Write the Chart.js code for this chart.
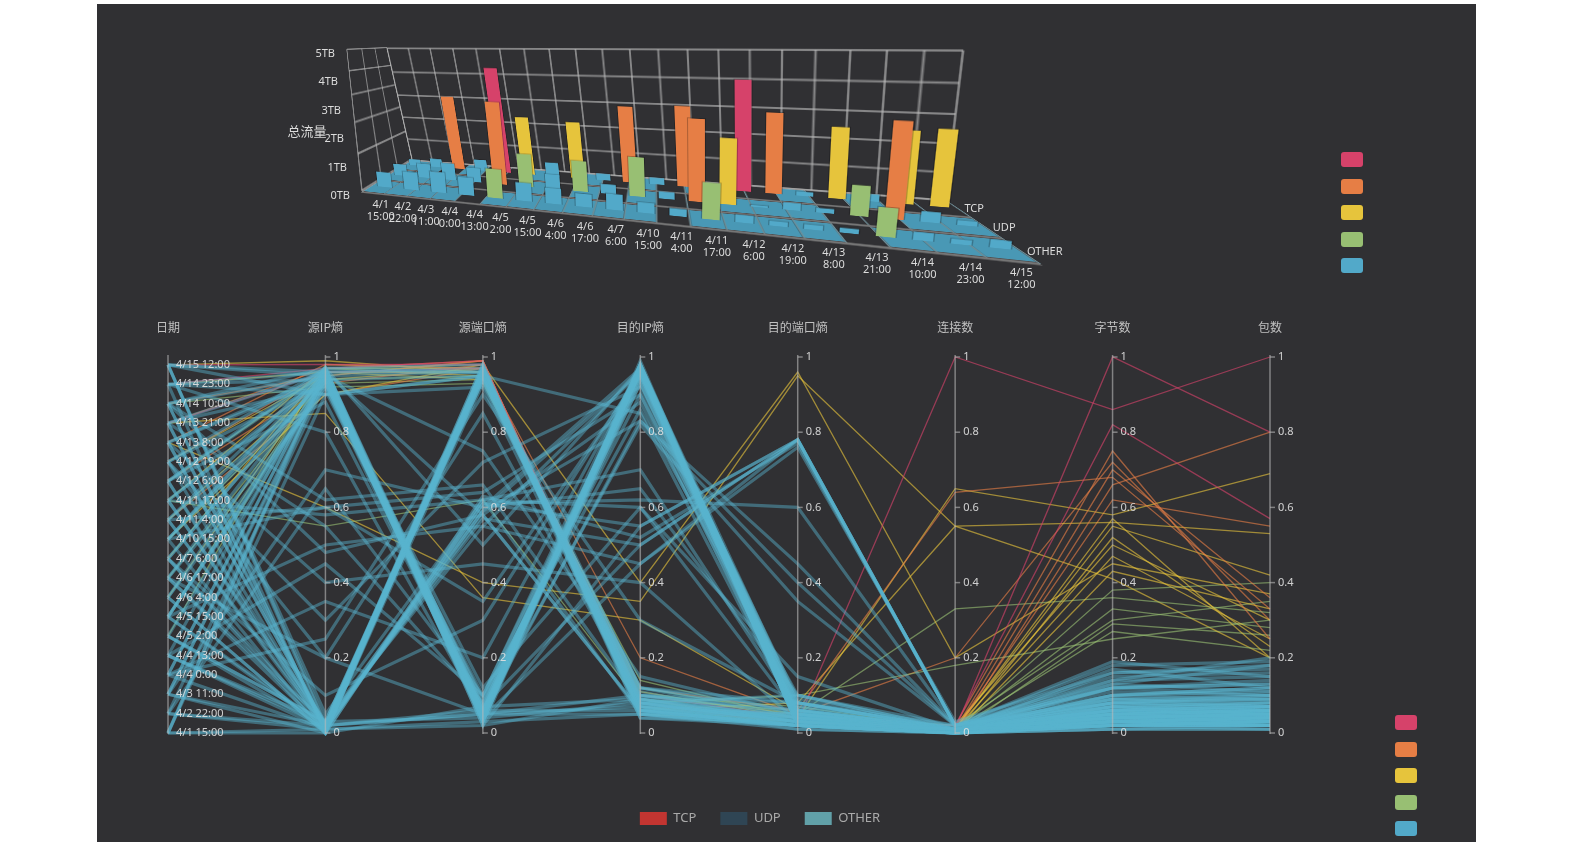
<!DOCTYPE html>
<html><head><meta charset="utf-8">
<script src="https://cdn.jsdelivr.net/npm/chart.js@4.4.1/dist/chart.umd.min.js"></script>
<style>
html,body{margin:0;padding:0;background:#fff;width:1575px;height:846px;overflow:hidden;}
#panel{position:absolute;left:97px;top:4px;width:1379px;height:838px;background:#303033;}
#stage{position:absolute;left:0;top:0;width:1575px;height:846px;}
.plane{position:absolute;left:0;top:0;transform-origin:0 0;}
.lbl{position:absolute;color:#dcdcdc;font:11px 'Noto Sans','Noto Sans CJK SC',sans-serif;white-space:nowrap;line-height:12px;z-index:20;}
.sw{position:absolute;width:22px;height:15px;border-radius:3px;z-index:20;}
</style></head><body>
<div id="panel"></div>
<div id="stage"><canvas id="par" width="1575" height="846" style="position:absolute;left:0;top:0;width:1575px;height:846px;z-index:1"></canvas></div>
<script>
// ---------------- data ----------------
const dateLabels = ['4/1 15:00','4/2 22:00','4/3 11:00','4/4 0:00','4/4 13:00','4/5 2:00','4/5 15:00','4/6 4:00','4/6 17:00','4/7 6:00','4/10 15:00','4/11 4:00','4/11 17:00','4/12 6:00','4/12 19:00','4/13 8:00','4/13 21:00','4/14 10:00','4/14 23:00','4/15 12:00'];
const protoRows = ['OTHER','UDP','TCP'];            // front -> back
const trafficTCP   = [0.3, 0.4, 3.1, 0.5, 4.3, 2.4, 0.6, 2.3, 0.3, 3.0, 0.3, 3.1, 0.2, 4.1, 3.0, 0.2, 2.6, 0.3, 2.6, 2.7];
const trafficUDP   = [0.5, 0.6, 0.7, 0.6, 3.2, 1.3, 0.6, 1.2, 0.4, 1.5, 0.3, 3.0, 2.4, 0.1, 0.3, 0.2, 1.1, 3.3, 0.4, 0.2];
const trafficOTHER = [0.6, 0.7, 0.8, 0.7, 1.1, 0.7, 0.6, 0.5, 0.6, 0.4, 0.3, 1.3, 0.3, 0.2, 0.2, 0.2, 1.0, 0.3, 0.2, 0.3];
const tbTicks = ['0TB','1TB','2TB','3TB','4TB','5TB'];
const trafficAxisName = '总流量';
const pieceColors = ['#52a9c9','#98bf73','#e6c43c','#e67e45','#d6426a']; // low -> high
const trafficBounds = [1, 2, 3, 4];
const bytesBounds = [0.2, 0.4, 0.6, 0.8];

const dims = ['日期','源IP熵','源端口熵','目的IP熵','目的端口熵','连接数','字节数','包数'];
const valueTicks = [0, 0.2, 0.4, 0.6, 0.8, 1];
const seriesNames = ['TCP','UDP','OTHER'];
const seriesColors = ['#c23531','#2f4554','#61a0a8'];

const pcDate = [19,17,15,13,11,9,7,5,3,2, 1,0,16,8,19,18,14,12,10,6, 4,2,1,0,18,15,11,6,3,17, 13,9,5,1,12,7,16,10,4,14, 8,19,18,13,6,2,11,5,0,15, 9,3,17,10,7,14,12,4,16,8, 12,6,17,3,9,19,0,14,
  18,19,16,17,15,14,13,12,11,19, 18,10,16,9,14,13,8,17,6,12, 15,11,7,10,5,16,
  19,18,16,14,12,10,8,6,4,2, 17,15,13,11,9,7,5,3,19,16, 8,2,18,10,15,6,11,1,13,4, 17,0];
const pcSrcIp = [.96,.95,.94,.96,.93,.95,.97,.94,.96,.95, .93,.97,.92,.91,.02,0,.01,.03,0,.02, .01,0,.02,.01,.96,.95,.97,.94,.96,.01, .02,0,.03,.01,.02,0,.55,.60,.45,.30, .20,.05,.80,.88,.93,.70,.02,.01,0,.40, .95,.25,.97,.96,.92,.97,.94,.02,.01,.03, .58,.50,.62,.35,.10,.90,.96,.20,
  .97,.98,.96,.95,.98,.96,.93,.97,.94,.99, .96,.90,.85,.97,.95,.96,.94,.92,.97,.55, .60,.90,.96,.93,.98,.97,
  .95,.94,.96,.93,.95,.94,.96,.95,.97,.94, .01,.02,0,.01,.02,0,.03,.01,.03,.02, .01,.02,.90,.97,.02,.01,.60,.65,.97,.03, .48,.90];
const pcSrcPort = [.05,.04,.06,.03,.07,.05,.02,.06,.04,.08, .05,.03,.09,.10,.97,.95,.96,.94,.97,.95, .98,.93,.96,.94,.97,.96,.98,.95,.96,.60, .58,.62,.59,.61,.57,.63,.08,.35,.10,.72, .85,.62,.05,.06,.12,.60,.05,.03,.07,.45, .75,.90,.50,.02,.04,.05,.04,.96,.97,.95, .62,.55,.66,.20,.30,.95,.58,.05,
  .99,.98,.97,.99,.97,.96,.98,.95,.97,.96, .94,.98,.36,.97,.99,.96,.95,.93,.98,.62, .40,.97,.96,.94,.97,.99,
  .06,.04,.05,.07,.03,.06,.05,.04,.06,.03, .95,.97,.96,.94,.98,.95,.96,.97,.04,.06, .02,.05,.95,.96,.61,.59,.64,.10,.07,.55, .58,.92];
const pcDstIp = [.97,.96,.98,.95,.97,.96,.98,.94,.97,.93, .96,.99,.90,.86,.06,.08,.05,.09,.07,.10, .04,.11,.06,.08,.06,.09,.05,.12,.07,.97, .88,.70,.96,.55,.50,.52,.97,.95,.98,.92, .08,.05,.83,.82,.60,.65,.07,.05,.09,.40, .15,.30,.97,.55,.45,.97,.98,.10,.12,.08, .60,.96,.08,.97,.96,.85,.06,.05,
  .08,.06,.10,.07,.09,.12,.08,.11,.06,.05, .10,.40,.30,.09,.07,.12,.10,.14,.06,.08, .35,.20,.08,.09,.07,.07,
  .96,.97,.93,.95,.97,.96,.98,.97,.95,.98, .07,.09,.06,.08,.05,.10,.07,.06,.08,.06, .09,.10,.12,.04,.62,.83,.90,.96,.50,.45, .06,.07];
const pcDstPort = [.03,.05,.02,.04,.06,.03,.02,.05,.07,.04, .03,.02,.08,.10,.02,.03,.02,.04,.01,.05, .02,.03,.02,.04,.02,.03,.05,.04,.02,.04, .05,.06,.03,.78,.78,.77,.05,.03,.08,.04, .02,.03,.40,.35,.15,.10,.02,.01,.03,.03, .05,.08,.02,.78,.76,.02,.06,.08,.06,.10, .05,.04,.03,.03,.05,.04,.02,.02,
  .03,.02,.04,.05,.03,.06,.02,.04,.08,.03, .05,.96,.06,.02,.04,.05,.07,.04,.03,.10, .95,.05,.03,.06,.02,.03,
  .08,.05,.06,.09,.04,.07,.05,.03,.06,.02, .04,.02,.05,.03,.02,.06,.03,.04,.03,.02, .04,.03,.08,.03,.60,.45,.03,.04,.78,.78, .02,.05];
const pcConn = [.01,.01,0,.01,.01,.02,.01,0,.01,.01, .01,0,.01,.02,.01,.01,0,.01,0,.01, .01,.01,0,.01,.01,.01,.01,0,.01,.01, .01,.01,0,.02,.02,.02,.01,.01,.01,.01, .01,.01,.02,.02,.01,.01,0,0,0,.01, .01,.01,.01,.02,.03,.01,.01,.02,.01,.01, .01,.01,.01,.01,.01,.01,0,0,
  1.00,.01,.02,.01,0,.64,.02,.65,.55,.01, .02,.20,.01,0,.01,.33,.01,.02,.01,.18, .55,.20,0,.01,0,.01,
  .01,.01,.01,.01,.01,.01,.01,.01,.01,0, .01,.01,.01,.01,0,.01,.01,.01,0,0, .01,0,.01,.01,.02,.02,.01,.01,.02,.02, .01,.01];
const pcBytes = [.02,.04,.03,.06,.05,.08,.03,.02,.10,.04, .07,.01,.12,.09,.03,.02,.05,.04,.02,.06, .03,.08,.01,.04,.03,.05,.02,.07,.04,.05, .07,.04,.03,.10,.11,.09,.06,.03,.05,.08, .02,.04,.15,.13,.10,.07,.02,.01,.03,.06, .09,.12,.04,.18,.16,.14,.17,.19,.16,.13, .05,.06,.03,.04,.05,.06,.02,.02,
  .86,1.00,.82,.70,.66,.68,.75,.58,.56,.55, .50,.45,.57,.43,.47,.36,.33,.30,.27,.25, .41,.72,.52,.38,.29,.62,
  .05,.07,.03,.08,.04,.06,.05,.02,.09,.03, .04,.03,.06,.05,.02,.07,.04,.03,.02,.03, .04,.02,.10,.03,.08,.12,.05,.06,.14,.12, .03,.08];
const pcPkts = [.03,.05,.02,.07,.04,.09,.04,.02,.12,.06, .05,.01,.14,.08,.02,.03,.04,.05,.01,.07, .03,.06,.02,.04,.04,.03,.02,.08,.05,.06, .06,.05,.03,.11,.10,.09,.05,.04,.06,.07, .03,.05,.16,.18,.09,.08,.02,.01,.03,.07, .10,.13,.04,.19,.17,.20,.12,.15,.18,.11, .06,.05,.04,.03,.07,.05,.03,.02,
  1.00,.80,.57,.36,.80,.33,.25,.69,.53,.42, .30,.37,.20,.33,.25,.32,.28,.35,.22,.30, .20,.30,.23,.40,.26,.55,
  .06,.05,.04,.10,.03,.08,.04,.03,.07,.02, .05,.03,.04,.06,.02,.06,.05,.04,.03,.02, .03,.02,.12,.02,.07,.10,.06,.05,.15,.13, .04,.09];

// ---------------- helpers ----------------
Chart.defaults.font.family = "'Noto Sans','Noto Sans CJK SC',sans-serif";
function pieceIndex(v, bounds){ let i=0; while(i<bounds.length && v>=bounds[i]) i++; return i; }
function hexA(hex,a){ const n=parseInt(hex.slice(1),16); return `rgba(${n>>16&255},${n>>8&255},${n&255},${a})`; }
const stage = document.getElementById('stage');

// ---------------- parallel coordinates ----------------
const dateStep = 0.979/19;
const parallelAxes = {
  id:'parallelAxes',
  afterDatasetsDraw(chart){
    const {ctx, scales:{x,y}} = chart;
    const top=y.getPixelForValue(1), bot=y.getPixelForValue(0);
    ctx.save();
    dims.forEach((name,i)=>{
      const px = x.getPixelForValue(i);
      ctx.strokeStyle='rgba(185,185,185,0.6)'; ctx.lineWidth=1.5;
      ctx.beginPath(); ctx.moveTo(px,top-2); ctx.lineTo(px,bot+1); ctx.stroke();
      ctx.fillStyle='rgba(200,200,200,0.95)'; ctx.font="12px 'Noto Sans CJK SC',sans-serif";
      ctx.textAlign='center'; ctx.textBaseline='middle';
      ctx.fillText(name, px, top-30);
      ctx.font="11px 'Noto Sans',sans-serif"; ctx.textAlign='left';
      ctx.fillStyle='rgba(225,225,225,0.9)';
      if(i===0){
        dateLabels.forEach((lab,k)=>{ ctx.fillText(lab, px+8, y.getPixelForValue(k*dateStep)); });
      } else {
        valueTicks.forEach(v=>{
          const py=y.getPixelForValue(v);
          ctx.beginPath(); ctx.moveTo(px,py); ctx.lineTo(px+5,py); ctx.stroke();
          ctx.fillText(String(v), px+8, py);
        });
      }
    });
    ctx.restore();
  }
};
const pcDatasets = seriesNames.map((n,i)=>({label:n, data:[], borderColor:seriesColors[i], backgroundColor:seriesColors[i], borderWidth:0, order:-1}));
pcDate.forEach((d,k)=>{
  const b = pcBytes[k];
  const pi = pieceIndex(b, bytesBounds);
  const blue = pi===0;
  pcDatasets.push({
    label:'', data:[d*dateStep, pcSrcIp[k], pcSrcPort[k], pcDstIp[k], pcDstPort[k], pcConn[k], b, pcPkts[k]],
    borderColor: blue ? 'rgba(88,180,206,0.45)' : hexA(pieceColors[pi], 0.62),
    borderWidth: blue ? 3.2 : 1.3, order: blue ? 1 : 2, clip: 3
  });
});
new Chart(document.getElementById('par'), {
  type:'line',
  data:{labels:dims, datasets:pcDatasets},
  options:{
    responsive:false, animation:false,
    layout:{padding:{left:168, right:223, top:357, bottom:11}},
    elements:{point:{radius:0}, line:{tension:0}},
    scales:{
      x:{type:'category', display:false, offset:false},
      y:{type:'linear', display:false, min:0, max:1},
      yr:{type:'linear', position:'right', display:true, grid:{display:false, drawTicks:false}, border:{display:false}, ticks:{display:false}, afterFit(s){ s.width=82; }},
      sp:{type:'linear', position:'bottom', display:true, grid:{display:false, drawTicks:false}, border:{display:false}, ticks:{display:false}, afterFit(s){ s.height=55; }}
    },
    plugins:{
      tooltip:{enabled:false},
      legend:{position:'bottom', labels:{filter:(it)=>seriesNames.includes(it.text), boxWidth:27, boxHeight:13, padding:24, color:'#aaaaaa', font:{size:13}}}
    }
  },
  plugins:[parallelAxes]
});

// ---------------- pseudo 3D bar chart ----------------
const FLB=[362,192], FRB=[1040,264], BRB=[945,200], BLB=[412,160];
const VFL=[-15,-142], VFR=[28,-170], VBR=[18,-150], VBL=[-25,-112];
function sq2quad(p){
  const [x0,y0]=p[0],[x1,y1]=p[1],[x2,y2]=p[2],[x3,y3]=p[3];
  const dx1=x1-x2, dx2=x3-x2, dy1=y1-y2, dy2=y3-y2, sx=x0-x1+x2-x3, sy=y0-y1+y2-y3;
  let g=0,h=0;
  if(Math.abs(sx)>1e-9||Math.abs(sy)>1e-9){ const det=dx1*dy2-dx2*dy1; g=(sx*dy2-dx2*sy)/det; h=(dx1*sy-sx*dy1)/det; }
  return {a:x1-x0+g*x1, b:x3-x0+h*x3, c:x0, d:y1-y0+g*y1, e:y3-y0+h*y3, f:y0, g, h};
}
function applyH(H,u,v){ const w=H.g*u+H.h*v+1; return [(H.a*u+H.b*v+H.c)/w,(H.d*u+H.e*v+H.f)/w]; }
const floorH = sq2quad([FLB,FRB,BRB,BLB]);
const F = (u,d)=>applyH(floorH,u,d);
const V = (u,d)=>[0,1].map(j=>(1-u)*(1-d)*VFL[j]+u*(1-d)*VFR[j]+u*d*VBR[j]+(1-u)*d*VBL[j]);
const S = (u,d,z)=>{ const f=F(u,d), v=V(u,d); return [f[0]+z*v[0], f[1]+z*v[1]]; };
function makePlane(W,H,corners,z){
  const c=document.createElement('canvas'); c.width=W; c.height=H;
  c.style.width=W+'px'; c.style.height=H+'px'; c.className='plane'; c.style.zIndex=z;
  const q=sq2quad(corners);
  c.style.transform=`matrix3d(${q.a/W},${q.d/W},0,${q.g/W},${q.b/H},${q.e/H},0,${q.h/H},0,0,1,0,${q.c},${q.f},0,1)`;
  stage.appendChild(c); return c;
}
const gridGray='rgba(190,190,190,0.6)';
// floor
{
  const W=660,H=90,p=3, eu=p/(W-2*p), ed=p/(H-2*p);
  const c=makePlane(W,H,[F(-eu,1+ed),F(1+eu,1+ed),F(1+eu,-ed),F(-eu,-ed)],2);
  const rows=[trafficOTHER,trafficUDP,trafficTCP];
  new Chart(c,{type:'bar',data:{labels:dateLabels,datasets:rows.map((vals,r)=>({
      data:vals.map(v=>v<trafficBounds[0]?[r+0.07,r+0.93]:null),
      backgroundColor:'rgba(76,166,198,0.88)', grouped:false, barPercentage:1, categoryPercentage:0.95}))},
    options:{responsive:false,animation:false,devicePixelRatio:2,layout:{padding:p},
      plugins:{legend:{display:false},tooltip:{enabled:false}},
      scales:{x:{display:true,offset:true,grid:{offset:true,color:'rgba(160,215,230,0.55)',lineWidth:1.5,drawTicks:false},ticks:{display:false},border:{display:false}},
              y:{display:true,min:0,max:3,ticks:{display:false,stepSize:1},grid:{color:'rgba(120,120,120,0.95)',lineWidth:3,drawTicks:false},border:{display:false}}}}});
}
// left wall
{
  const W=100,H=150,p=3, ed=p/(W-2*p), ez=p/(H-2*p);
  const c=makePlane(W,H,[S(0,-ed,1+ez),S(0,1+ed,1+ez),S(0,1+ed,-ez),S(0,-ed,-ez)],3);
  new Chart(c,{type:'scatter',data:{datasets:[]},
    options:{responsive:false,animation:false,devicePixelRatio:2,layout:{padding:p},plugins:{legend:{display:false},tooltip:{enabled:false}},
      scales:{x:{type:'linear',min:0,max:3,ticks:{display:false,stepSize:1},grid:{color:gridGray,lineWidth:2,drawTicks:false},border:{display:false}},
              y:{type:'linear',min:0,max:5,ticks:{display:false,stepSize:1},grid:{color:gridGray,lineWidth:2,drawTicks:false},border:{display:false}}}}});
}
// back wall grid
{
  const W=600,H=150,p=4, eu=p/(W-2*p), ez=p/(H-2*p);
  const c=makePlane(W,H,[S(-eu,1,1+ez),S(1+eu,1,1+ez),S(1+eu,1,-ez),S(-eu,1,-ez)],4);
  new Chart(c,{type:'bar',data:{labels:dateLabels,datasets:[]},
    options:{responsive:false,animation:false,devicePixelRatio:2,layout:{padding:p},plugins:{legend:{display:false},tooltip:{enabled:false}},
      scales:{x:{display:true,offset:true,grid:{offset:true,color:gridGray,lineWidth:2,drawTicks:false},ticks:{display:false},border:{display:false}},
              y:{display:true,min:0,max:5,ticks:{display:false,stepSize:1},grid:{color:gridGray,lineWidth:2,drawTicks:false},border:{display:false}}}}});
}
// bar rows
[[trafficTCP,2],[trafficUDP,1],[trafficOTHER,0]].forEach(([vals,r],k)=>{
  const d=(r+0.5)/3, W=600, H=160;
  const c=makePlane(W,H,[S(0,d,1),S(1,d,1),S(1,d,0),S(0,d,0)],5+k);
  new Chart(c,{type:'bar',data:{labels:dateLabels,datasets:[{data:vals,
      backgroundColor:(ctx)=>pieceColors[pieceIndex(ctx.raw,trafficBounds)],
      borderColor:'rgba(0,0,0,0.25)',borderWidth:1,barPercentage:0.6,categoryPercentage:1}]},
    options:{responsive:false,animation:false,devicePixelRatio:2,layout:{padding:0},plugins:{legend:{display:false},tooltip:{enabled:false}},
      scales:{x:{display:false,offset:true},y:{display:false,min:0,max:5}}}});
});
// 3D axis labels
function addLabel(html,x,y,tx,ty,extra){
  const el=document.createElement('div'); el.className='lbl'; el.innerHTML=html;
  el.style.left=x+'px'; el.style.top=y+'px'; el.style.transform=`translate(${tx}%,${ty}%)`;
  if(extra) Object.assign(el.style,extra); document.body.appendChild(el); return el;
}
dateLabels.forEach((lab,i)=>{ const p=F((i+0.5)/dateLabels.length,0); const [a,b]=lab.split(' ');
  addLabel(a+'<br>'+b, p[0]+8, p[1]+5, -50, 0, {textAlign:'center'}); });
protoRows.forEach((n,r)=>{ const p=F(1,(r+0.5)/3); addLabel(n, p[0]+7, p[1], 0, -50); });
tbTicks.forEach((t,k)=>{ const p=S(0,0,k/5); addLabel(t, p[0]-12, p[1]+3, -100, -50); });
{ const p=S(0,0,0.5); addLabel(trafficAxisName, p[0]-28, p[1]+10, -100, -50, {fontSize:'13px'}); }
// visual map swatches
pieceColors.slice().reverse().forEach((col,i)=>{
  [[1341,152],[1395,715]].forEach(([x,y])=>{
    const s=document.createElement('div'); s.className='sw'; s.style.background=col;
    s.style.left=x+'px'; s.style.top=(y+i*26.5)+'px'; document.body.appendChild(s);
  });
});
</script></body></html>
